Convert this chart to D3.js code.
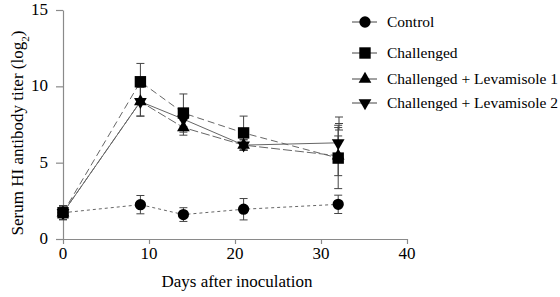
<!DOCTYPE html>
<html>
<head>
<meta charset="utf-8">
<script src="https://cdn.jsdelivr.net/npm/d3@7"></script>
<style>
  body { margin: 0; background: #fff; }
</style>
</head>
<body>
<script>
// data
const days = [0, 9, 14, 21, 32];
const seriesNames = ['Control', 'Challenged', 'Challenged + Levamisole 1', 'Challenged + Levamisole 2'];
const control = [1.72, 2.25, 1.6, 1.95, 2.27];
const controlErr = [0.45, 0.6, 0.45, 0.7, 0.6];
const challenged = [1.72, 10.3, 8.25, 6.95, 5.3];
const challengedErr = [0.45, 1.2, 1.25, 1.1, 2.0];
const lev1 = [1.72, 9.0, 7.3, 6.15, 5.45];
const lev1Err = [0.45, 0.95, 0.5, 0.35, 1.3];
const lev2 = [1.72, 9.0, 7.85, 6.15, 6.3];
const lev2Err = [0.45, 0.95, 0.5, 0.35, 1.15];
const xTicks = [0, 10, 20, 30, 40];
const yTicks = [0, 5, 10, 15];

const width = 560;
const height = 297;
const fontSize = '17px';
const legendFontSize = '15.5px';
const serif = '"Liberation Serif"';

const svg = d3.select('body')
    .append('svg')
    .attr('width', width)
    .attr('height', height);

const x = d3.scaleLinear().domain([0, 40]).range([63, 407]);
const y = d3.scaleLinear().domain([0, 15]).range([239, 10]);

const axisColor = '#8a8a8a';

// axes (lines from d3.axis, labels placed at top level so the serif face sticks)
const xAxis = svg.append('g')
    .attr('transform', `translate(0,${y(0)})`)
    .call(d3.axisBottom(x).tickValues(xTicks).tickSize(5).tickFormat('').tickSizeOuter(0));
const yAxis = svg.append('g')
    .attr('transform', `translate(${x(0)},0)`)
    .call(d3.axisLeft(y).tickValues(yTicks).tickSize(7).tickFormat('').tickSizeOuter(0));

[xAxis, yAxis].forEach(ax => {
    ax.selectAll('path, line').attr('stroke', axisColor).attr('stroke-width', 1.2);
});

svg.selectAll('.xlab')
    .data(xTicks)
    .enter()
    .append('text')
    .attr('class', 'xlab')
    .attr('x', d => x(d))
    .attr('y', y(0) + 20)
    .attr('text-anchor', 'middle')
    .text(d => d);

svg.selectAll('.ylab')
    .data(yTicks)
    .enter()
    .append('text')
    .attr('class', 'ylab')
    .attr('x', x(0) - 15)
    .attr('y', d => y(d) + 5)
    .attr('text-anchor', 'end')
    .text(d => d);

svg.append('text')
    .attr('x', x(20) + 2)
    .attr('y', 287)
    .attr('text-anchor', 'middle')
    .text('Days after inoculation');

const yTitle = svg.append('text')
    .attr('transform', `translate(23,133) rotate(-90)`)
    .attr('text-anchor', 'middle');
yTitle.append('tspan').text('Serum HI antibody titer (log');
yTitle.append('tspan').attr('class', 'sub').attr('baseline-shift', 'sub').text('2');
yTitle.append('tspan').text(')');

const series = [
    { name: seriesNames[0], values: control, err: controlErr, symbol: d3.symbolCircle, size: 100, dash: '3,3', rot: 0 },
    { name: seriesNames[1], values: challenged, err: challengedErr, symbol: d3.symbolSquare, size: 130, dash: '7,4', rot: 0 },
    { name: seriesNames[2], values: lev1, err: lev1Err, symbol: d3.symbolTriangle, size: 70, dash: '9,3', rot: 0 },
    { name: seriesNames[3], values: lev2, err: lev2Err, symbol: d3.symbolTriangle, size: 70, dash: null, rot: 180 }
];

const line = d3.line()
    .x(d => x(d[0]))
    .y(d => y(d[1]));

// lines
series.forEach(s => {
    svg.append('path')
        .datum(days.map((d, i) => [d, s.values[i]]))
        .attr('d', line)
        .attr('fill', 'none')
        .attr('stroke', '#666')
        .attr('stroke-width', 1)
        .attr('stroke-dasharray', s.dash);
});

// error bars
series.forEach(s => {
    const g = svg.append('g');
    days.forEach((d, i) => {
        const top = y(s.values[i] + s.err[i]);
        const bot = y(s.values[i] - s.err[i]);
        const cx = x(d);
        g.append('line').attr('x1', cx).attr('x2', cx).attr('y1', top).attr('y2', bot);
        g.append('line').attr('x1', cx - 4).attr('x2', cx + 4).attr('y1', top).attr('y2', top);
        g.append('line').attr('x1', cx - 4).attr('x2', cx + 4).attr('y1', bot).attr('y2', bot);
    });
    g.selectAll('line').attr('stroke', '#444').attr('stroke-width', 1);
});

// markers
series.forEach(s => {
    svg.append('g')
        .selectAll('path')
        .data(days.map((d, i) => [d, s.values[i]]))
        .enter()
        .append('path')
        .attr('d', d3.symbol().type(s.symbol).size(s.size))
        .attr('transform', d => `translate(${x(d[0])},${y(d[1])}) rotate(${s.rot})`)
        .attr('fill', '#000');
});

// one serif face for the axis texts
svg.selectAll('text')
    .style('font-family', serif)
    .style('font-size', fontSize)
    .attr('fill', '#000');
svg.selectAll('tspan.sub').style('font-size', '11px');

// legend
const legendRows = [22, 53, 79, 103];
const legendX = 365;
series.forEach((s, i) => {
    const ly = legendRows[i];
    svg.append('line').attr('x1', legendX - 13).attr('x2', legendX + 12).attr('y1', ly).attr('y2', ly)
        .attr('stroke', '#444').attr('stroke-width', 1);
    svg.append('path')
        .attr('d', d3.symbol().type(s.symbol).size(s.size))
        .attr('transform', `translate(${legendX},${ly}) rotate(${s.rot})`)
        .attr('fill', '#000');
    svg.append('text')
        .attr('x', legendX + 22)
        .attr('y', ly + 5)
        .style('font-family', serif)
        .style('font-size', legendFontSize)
        .attr('fill', '#000')
        .text(s.name);
});

// error bar key
const eb = svg.append('g').attr('stroke', '#444').attr('stroke-width', 1);
eb.append('line').attr('x1', 339).attr('x2', 339).attr('y1', 117).attr('y2', 130);
eb.append('line').attr('x1', 335).attr('x2', 343).attr('y1', 117).attr('y2', 117);
eb.append('line').attr('x1', 335).attr('x2', 343).attr('y1', 130).attr('y2', 130);
eb.append('line').attr('x1', 335).attr('x2', 343).attr('y1', 123.5).attr('y2', 123.5);
</script>
</body>
</html>
